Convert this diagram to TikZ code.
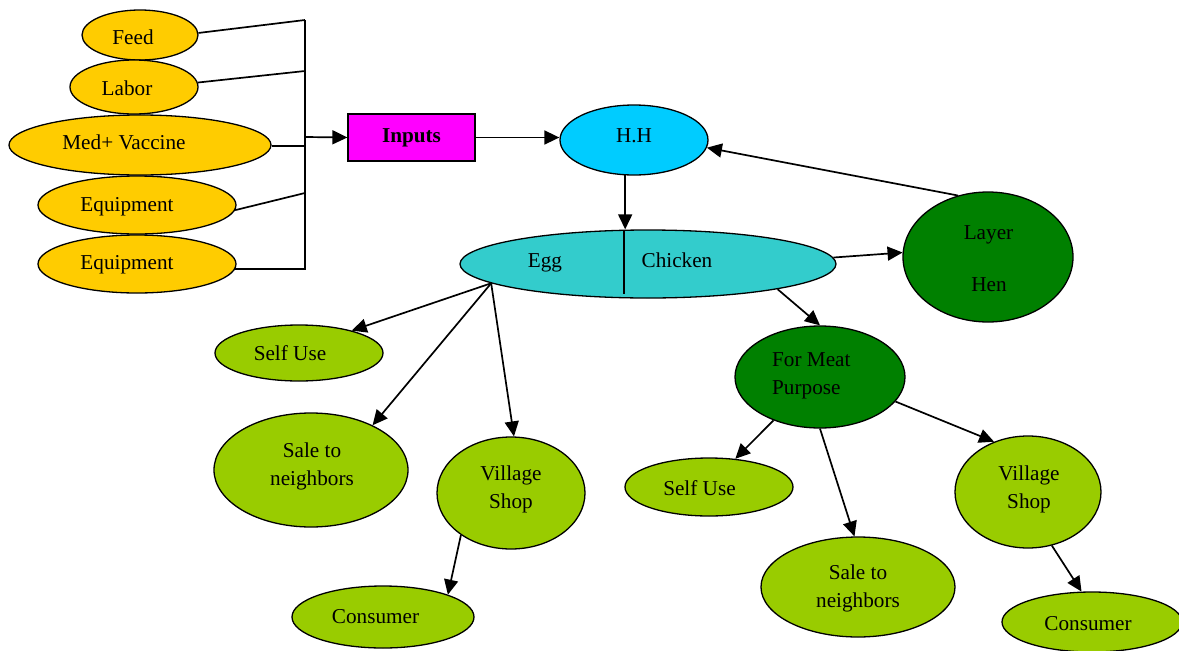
\documentclass[tikz,border=0pt]{standalone}
\usepackage{fontspec}
\setmainfont{Liberation Serif}
\usetikzlibrary{shapes.geometric,arrows.meta}
\definecolor{ygold}{HTML}{FFCC00}
\definecolor{mag}{HTML}{FF00FF}
\definecolor{sky}{HTML}{00CCFF}
\definecolor{teal2}{HTML}{33CCCC}
\definecolor{dgreen}{HTML}{008000}
\definecolor{lgreen}{HTML}{99CC00}
\begin{document}
\begin{tikzpicture}[x=1pt,y=-1pt,
  every node/.style={font=\fontsize{21.2}{28}\selectfont},
  ell/.style={ellipse, draw, line width=1.3pt, inner sep=0pt},
  txt/.style={inner sep=0pt, align=center},
  bt/.style={inner sep=0pt, anchor=base},
  con/.style={line width=1.7pt},
  arr/.style={con, -{Triangle[length=15pt,width=14pt]}}]
\useasboundingbox (0,0) rectangle (1179,651);

% inputs side
\node[ell, fill=ygold, minimum width=116pt, minimum height=50pt] (feed) at (140,35) {};
\node[bt] (feedt) at (133,44) {Feed};
\node[ell, fill=ygold, minimum width=128pt, minimum height=54pt] (labor) at (134,87) {};
\node[bt] (labort) at (127,95) {Labor};
\node[ell, fill=ygold, minimum width=262pt, minimum height=60pt] (med) at (140,145) {};
\node[bt] (medt) at (124,149) {Med+ Vaccine};
\node[ell, fill=ygold, minimum width=198pt, minimum height=58pt] (eqa) at (137,205) {};
\node[bt] (eqat) at (127,211) {Equipment};
\node[ell, fill=ygold, minimum width=198pt, minimum height=58pt] (eqb) at (137,264) {};
\node[bt] (eqbt) at (127,269) {Equipment};

\coordinate (bt) at (305,20);
\coordinate (bl) at (305,71);
\coordinate (bm) at (305,146);
\coordinate (be) at (305,193);
\coordinate (ba) at (305,137);

\node[draw, line width=1.3pt, fill=mag, minimum width=127pt, minimum height=47pt, inner sep=0pt,
      font=\fontsize{21.2}{28}\selectfont\bfseries] (inputs) at (411.5,137.5) {Inputs};

\draw[con] (bt) -- (eqb.-3 -| bt) -- (eqb.-3);
\draw[con] (feed.2) -- (bt);
\draw[con] (labor.4) -- (bl);
\draw[con] (med.east |- bm) -- (bm);
\draw[con] (eqa.-3) -- (be);
\draw[arr] (ba) -- (inputs.west);

% H.H
\node[ell, fill=sky, minimum width=148pt, minimum height=70pt] (hh) at (634,140) {};
\node[bt] (hht) at (634,142) {H.H};
\draw[arr] (inputs.east) -- (inputs.east -| hh.west);

% Egg / Chicken
\node[ell, fill=teal2, minimum width=376pt, minimum height=68pt] (egg) at (648,264) {};
\draw[line width=1.5pt] ([xshift=-24pt,yshift=-2pt]egg.north) -- ([xshift=-24pt,yshift=5pt]egg.south);
\node[bt] (eggt) at (545,267) {Egg};
\node[bt] (chickt) at (677,267) {Chicken};
\draw[arr] (hh.256) -- (hh.256 |- egg.north);

% Layer Hen
\node[ell, fill=dgreen, minimum width=170pt, minimum height=130pt] (layer) at (988,257) {};
\node[bt] (layert) at (988.5,239) {Layer};
\node[bt] (hent) at (989,291) {Hen};
\draw[arr] (egg.2) -- (layer.177);
\draw[arr] (layer.116) -- (hh.-6);

% Egg branch
\node[ell, fill=lgreen, minimum width=168pt, minimum height=56pt] (selfa) at (299,353) {};
\node[bt] (selfat) at (290,360) {Self Use};
\node[ell, fill=lgreen, minimum width=194pt, minimum height=114pt] (salea) at (311,470) {};
\node[txt] (saleat) at (312,466) {Sale to\\neighbors};
\node[ell, fill=lgreen, minimum width=148pt, minimum height=112pt] (villa) at (511,493) {};
\node[txt] (villat) at (511,489) {Village\\Shop};
\node[ell, fill=lgreen, minimum width=182pt, minimum height=62pt] (consa) at (383,617) {};
\node[bt] (consat) at (375.5,623) {Consumer};

\draw[arr] (egg.187) -- (selfa.23);
\draw[arr] (egg.187) -- (salea.36);
\draw[arr] (egg.187) -- (villa.87);
\draw[arr] (villa.220) -- (consa.19);

% Chicken branch
\node[ell, fill=dgreen, minimum width=170pt, minimum height=102pt] (meat) at (820,377) {};
\node[txt, align=left, anchor=west] (meatt) at (772,376) {For Meat\\Purpose};
\draw[arr] (egg.-11) -- (meat.north);

\node[ell, fill=lgreen, minimum width=168pt, minimum height=58pt] (selfb) at (709,487) {};
\node[bt] (selfbt) at (699.5,495) {Self Use};
\node[ell, fill=lgreen, minimum width=194pt, minimum height=100pt] (saleb) at (858,587) {};
\node[txt] (salebt) at (858,588) {Sale to\\neighbors};
\node[ell, fill=lgreen, minimum width=146pt, minimum height=112pt] (villb) at (1028,492) {};
\node[txt] (villbt) at (1029,489) {Village\\Shop};
\node[ell, fill=lgreen, minimum width=180pt, minimum height=60pt] (consb) at (1092,622) {};
\node[bt] (consbt) at (1088,630) {Consumer};

\draw[arr] (meat.223) -- (selfb.47);
\draw[arr] (meat.south) -- (saleb.94);
\draw[arr] (meat.-18) -- (villb.124);
\draw[arr] (villb.-66) -- (consb.109);
\end{tikzpicture}
\end{document}
